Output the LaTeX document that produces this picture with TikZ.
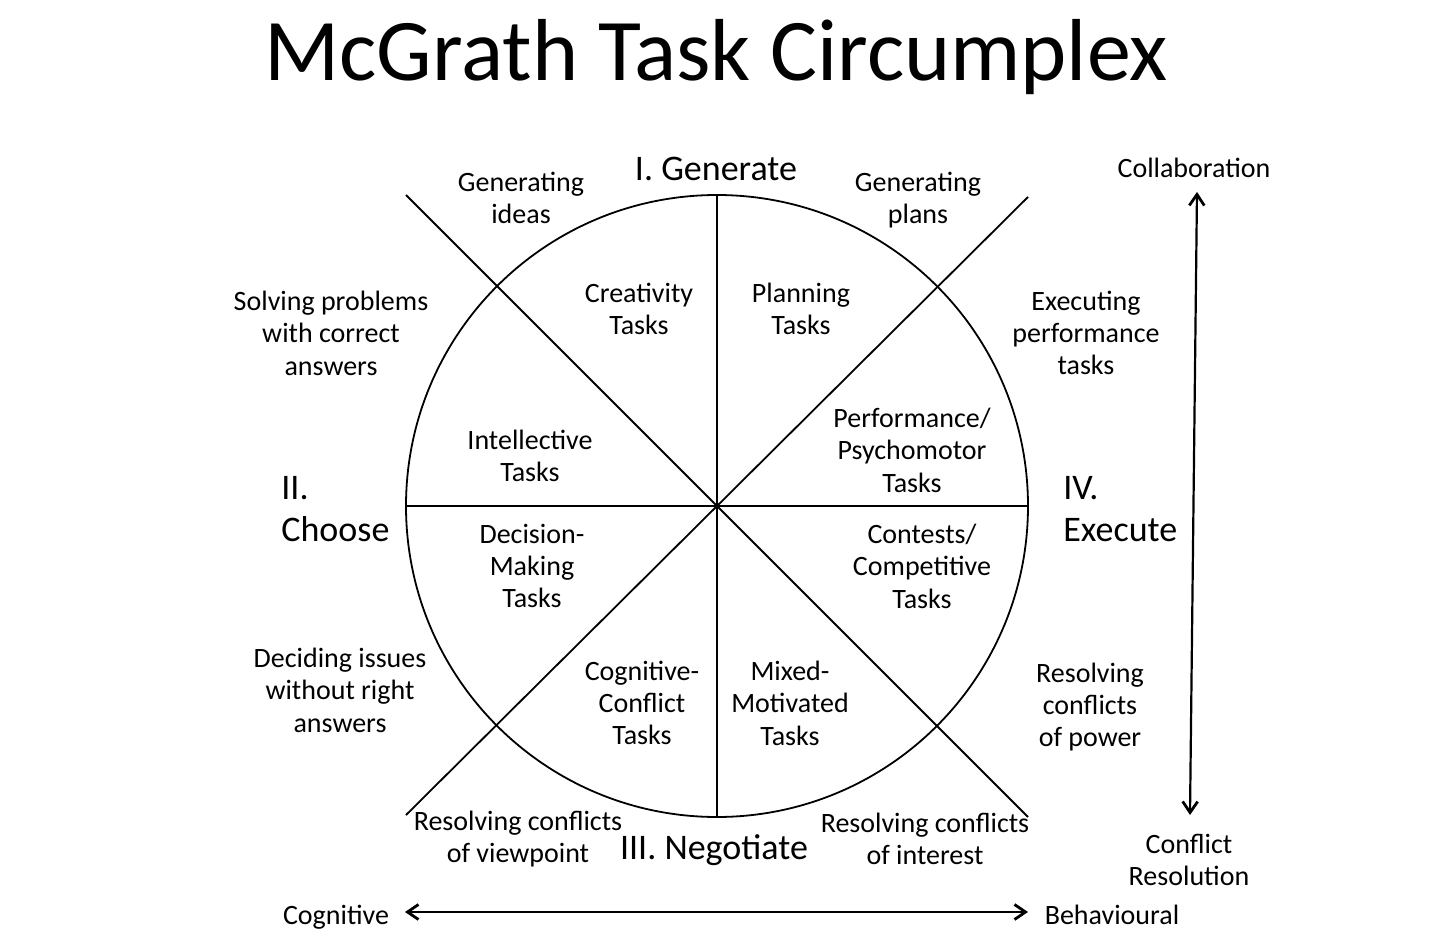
\documentclass[tikz,border=0pt]{standalone}
\usepackage{fontspec}
\setmainfont{Carlito}
\usetikzlibrary{arrows.meta}
\tikzset{
  lbl/.style={align=center, inner sep=0pt, font=\fontsize{14}{16.2}\selectfont},
  big/.style={inner sep=0pt, font=\fontsize{18}{21}\selectfont},
  ln/.style={line width=0.9pt},
  barb/.style={Straight Barb[length=5.5pt,width=7.5pt,line width=1.4pt]},
  axis/.style={line width=1.1pt, {Straight Barb[length=5.5pt,width=7.5pt,line width=1.4pt]}-{Straight Barb[length=5.5pt,width=7.5pt,line width=1.4pt]}}
}
\begin{document}
\begin{tikzpicture}[x=0.5pt,y=-0.5pt]
\useasboundingbox (0,0) rectangle (1432,942);
% title
\node[inner sep=0pt, anchor=base, font=\fontsize{44}{50}\selectfont] (title) at (716,80) {McGrath Task Circumplex};
% circle and spokes
\coordinate (c) at (717,506);
\coordinate (top) at (717,195);
\coordinate (bot) at (717,817);
\coordinate (lft) at (406,506);
\coordinate (rgt) at (1028,506);
\coordinate (d1a) at (406,195);
\coordinate (d1b) at (1028,817);
\coordinate (d2a) at (1028,197);
\coordinate (d2b) at (406,815);
\draw[ln] (c) circle[radius=311];
\draw[ln] (top) -- (bot);
\draw[ln] (lft) -- (rgt);
\draw[ln] (d1a) -- (d1b);
\draw[ln] (d2a) -- (d2b);
% quadrant titles
\node[big] (gen) at (716,169) {I. Generate};
\node[big, anchor=base] (neg) at (714,859) {III. Negotiate};
\node[big, align=left, anchor=west] (cho) at (281,509) {II.\\Choose};
\node[big, align=left, anchor=west] (exe) at (1063,509) {IV.\\Execute};
% outer labels
\node[lbl] (o1) at (521,198) {Generating\\ideas};
\node[lbl] (o2) at (918,200) {Generating\\plans};
\node[lbl] (o3) at (331,333) {Solving problems\\with correct\\answers};
\node[lbl] (o4) at (1086,333) {Executing\\performance\\tasks};
\node[lbl] (o5) at (340,690) {Deciding issues\\without right\\answers};
\node[lbl] (o6) at (1090,707) {Resolving\\conflicts\\of power};
\node[lbl] (o7) at (518,839) {Resolving conflicts\\of viewpoint};
\node[lbl] (o8) at (925,839) {Resolving conflicts\\of interest};
% inner labels
\node[lbl] (i1) at (639,309) {Creativity\\Tasks};
\node[lbl] (i2) at (801,309) {Planning\\Tasks};
\node[lbl] (i3) at (530,456) {Intellective\\Tasks};
\node[lbl] (i4) at (912,450) {Performance/\\Psychomotor\\Tasks};
\node[lbl] (i5) at (532,566) {Decision-\\Making\\Tasks};
\node[lbl] (i6) at (922,566) {Contests/\\Competitive\\Tasks};
\node[lbl] (i7) at (642,703) {Cognitive-\\Conflict\\Tasks};
\node[lbl] (i8) at (790,703) {Mixed-\\Motivated\\Tasks};
% axes
\node[lbl] (colab) at (1194,168) {Collaboration};
\node[lbl] (confl) at (1189,860) {Conflict\\Resolution};
\node[lbl, anchor=base] (cogn) at (336,924) {Cognitive};
\node[lbl, anchor=base] (behav) at (1112,924) {Behavioural};
\coordinate (va) at (1197,192);
\coordinate (vb) at (1190,815);
\coordinate (ha) at (405,912);
\coordinate (hb) at (1028,912);
\draw[axis] (va) -- (vb);
\draw[axis] (ha) -- (hb);
\end{tikzpicture}
\end{document}
